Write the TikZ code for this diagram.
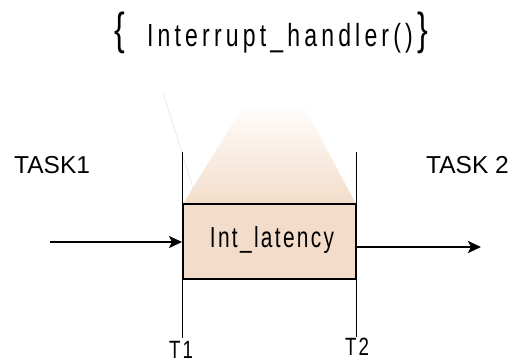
\documentclass[tikz,border=0pt]{standalone}
\usepackage{fontspec}
\setmainfont{Liberation Sans}
\newfontfamily\titlefont[FakeStretch=0.72,LetterSpace=13]{Liberation Sans}
\newfontfamily\latfont[FakeStretch=0.72,LetterSpace=8]{Liberation Sans}
\newfontfamily\tfont[FakeStretch=0.75,LetterSpace=8]{Liberation Sans}
\usetikzlibrary{arrows.meta}
\definecolor{peach}{RGB}{243,221,202}
\tikzset{
  vline/.style={line width=1.4pt, black},
  arr/.style={line width=2pt, -{Stealth[length=13pt,width=12pt,inset=3pt]}},
  tasklabel/.style={inner sep=0pt, anchor=base west, font=\fontsize{24.5}{28}\selectfont},
  tlabel/.style={inner sep=0pt, anchor=base, font=\fontsize{25}{28}\tfont},
  brace/.style={inner sep=0pt, anchor=base, font=\fontsize{32}{36}\selectfont},
}
\begin{document}
\begin{tikzpicture}[x=1pt,y=-1pt]
\useasboundingbox (0,0) rectangle (509,364);
% title
\node[inner sep=0pt, anchor=base, font=\fontsize{32}{36}\titlefont] (title) at (280,46) {Interrupt\_handler()};
\node[brace] (lb) at (120,44) {\scalebox{1}[1.4]{\{}};
\node[brace] (rb) at (423,44) {\scalebox{1}[1.4]{\}}};
% faint line
\coordinate (f1) at (163,93);
\coordinate (f2) at (193,188);
\draw[black!10, line width=0.6pt] (f1) -- (f2);
% trapezoid with gradient
\coordinate (tz1) at (242,108);
\coordinate (tz2) at (305,108);
\coordinate (tz3) at (356,204);
\coordinate (tz4) at (183,204);
\shade[top color=peach!8, middle color=peach!70, bottom color=peach] (tz1) -- (tz2) -- (tz3) -- (tz4) -- cycle;
% box
\node[draw=black, line width=1.5pt, fill=peach, minimum width=173pt, minimum height=75pt, inner sep=0pt] (box) at (269.5,241.5) {};
\node[inner sep=0pt, anchor=base, font=\fontsize{29}{32}\latfont] (lat) at (272,247) {Int\_latency};
% vertical lines
\coordinate (t1top) at (182.5,152);
\coordinate (t1bot) at (182.5,338);
\coordinate (t2top) at (356.5,152);
\coordinate (t2bot) at (356.5,337);
\draw[vline] (t1top) -- (t1bot);
\draw[vline] (t2top) -- (t2bot);
% labels
\node[tasklabel] (task1) at (14,173) {TASK1};
\node[tasklabel] (task2) at (426,173) {TASK 2};
\node[tlabel] (T1) at (181,358) {T1};
\node[tlabel] (T2) at (357,355) {T2};
% arrows
\coordinate (a1s) at (50,242);
\coordinate (a1e) at (182,242);
\coordinate (a2s) at (357,247);
\coordinate (a2e) at (481,247);
\draw[arr] (a1s) -- (a1e);
\draw[arr, line width=2.5pt] (a2s) -- (a2e);
\end{tikzpicture}
\end{document}
